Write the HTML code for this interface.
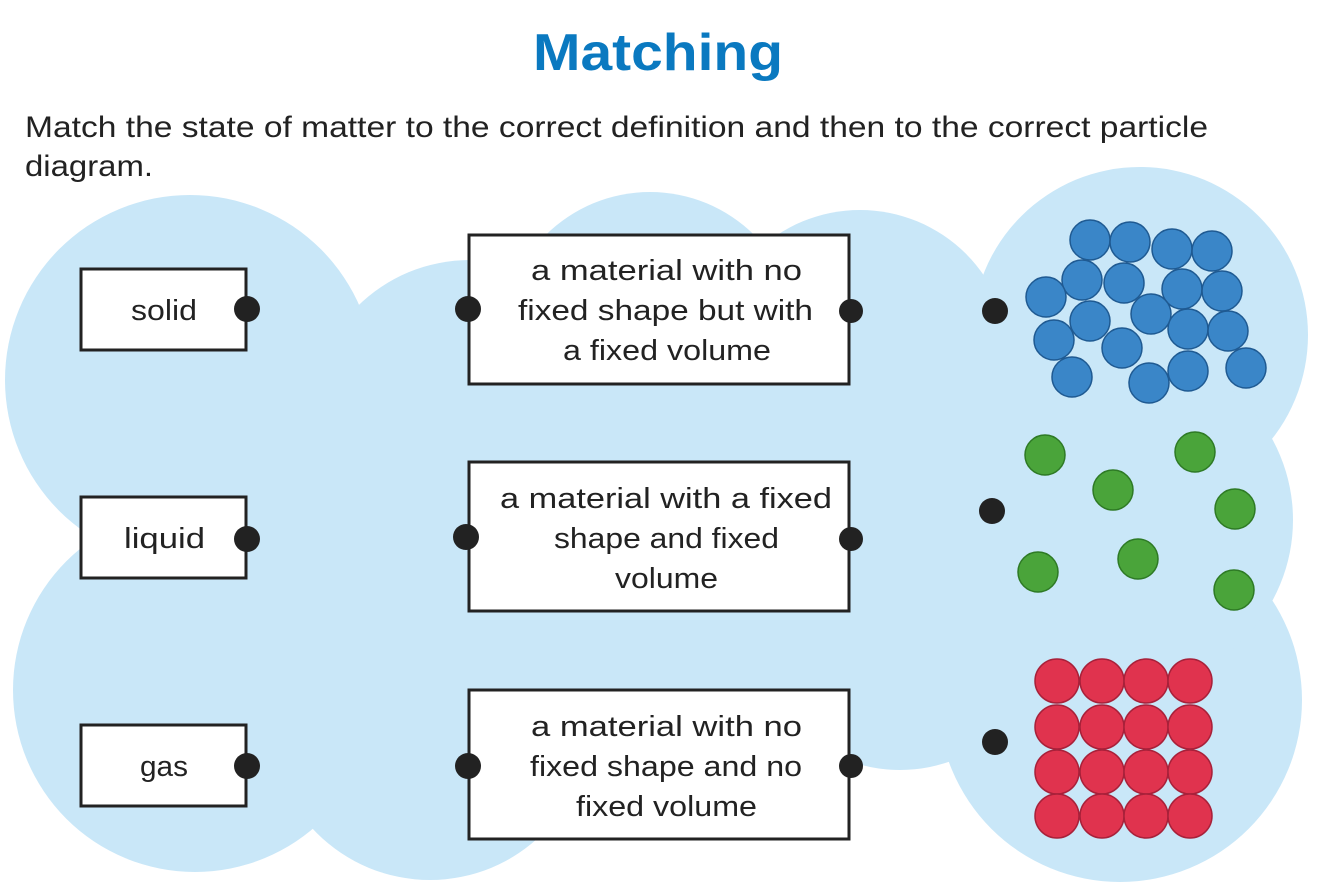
<!DOCTYPE html>
<html><head><meta charset="utf-8"><style>
body{margin:0;width:1328px;height:891px;background:#fff;overflow:hidden;font-family:"Liberation Sans",sans-serif}
</style></head><body>
<svg width="1328" height="891" viewBox="0 0 1328 891" xmlns="http://www.w3.org/2000/svg">
<g fill="#c9e7f8">
<circle cx="190" cy="380" r="185"/>
<circle cx="195" cy="690" r="182"/>
<circle cx="470" cy="420" r="160"/>
<circle cx="650" cy="340" r="148"/>
<circle cx="860" cy="360" r="150"/>
<circle cx="1140" cy="335" r="168"/>
<circle cx="1120" cy="700" r="182"/>
<circle cx="1125" cy="520" r="168"/>
<circle cx="430" cy="720" r="160"/>
<circle cx="900" cy="620" r="150"/>
<rect x="150" y="320" width="1000" height="440"/>
</g>
<text x="533" y="70" textLength="250" lengthAdjust="spacingAndGlyphs" font-size="52" font-weight="bold" fill="#0a79c0">Matching</text>
<text x="25" y="137" textLength="1183" lengthAdjust="spacingAndGlyphs" font-size="30" fill="#222">Match the state of matter to the correct definition and then to the correct particle</text>
<text x="25" y="176" textLength="128" lengthAdjust="spacingAndGlyphs" font-size="30" fill="#222">diagram.</text>
<g fill="#fff" stroke="#222" stroke-width="3">
<rect x="81" y="269" width="165" height="81"/>
<rect x="81" y="497" width="165" height="81"/>
<rect x="81" y="725" width="165" height="81"/>
<rect x="469" y="235" width="380" height="149"/>
<rect x="469" y="462" width="380" height="149"/>
<rect x="469" y="690" width="380" height="149"/>
</g>
<g font-size="29" fill="#222" lengthAdjust="spacingAndGlyphs">
<text x="131" y="320" textLength="66" lengthAdjust="spacingAndGlyphs">solid</text>
<text x="124" y="548" textLength="81" lengthAdjust="spacingAndGlyphs">liquid</text>
<text x="140" y="776" textLength="48" lengthAdjust="spacingAndGlyphs">gas</text>
<text x="531" y="280" textLength="271" lengthAdjust="spacingAndGlyphs">a material with no</text>
<text x="518" y="320" textLength="295" lengthAdjust="spacingAndGlyphs">fixed shape but with</text>
<text x="563" y="360" textLength="208" lengthAdjust="spacingAndGlyphs">a fixed volume</text>
<text x="500" y="508" textLength="332" lengthAdjust="spacingAndGlyphs">a material with a fixed</text>
<text x="554" y="548" textLength="225" lengthAdjust="spacingAndGlyphs">shape and fixed</text>
<text x="615" y="588" textLength="103" lengthAdjust="spacingAndGlyphs">volume</text>
<text x="531" y="736" textLength="271" lengthAdjust="spacingAndGlyphs">a material with no</text>
<text x="530" y="776" textLength="272" lengthAdjust="spacingAndGlyphs">fixed shape and no</text>
<text x="576" y="816" textLength="181" lengthAdjust="spacingAndGlyphs">fixed volume</text>
</g>
<g fill="#222">
<circle cx="247" cy="309" r="13"/><circle cx="247" cy="539" r="13"/><circle cx="247" cy="766" r="13"/>
<circle cx="468" cy="309" r="13"/><circle cx="466" cy="537" r="13"/><circle cx="468" cy="766" r="13"/>
<circle cx="851" cy="311" r="12"/><circle cx="851" cy="539" r="12"/><circle cx="851" cy="766" r="12"/>
<circle cx="995" cy="311" r="13"/><circle cx="992" cy="511" r="13"/><circle cx="995" cy="742" r="13"/>
</g>
<g fill="#3a86c8" stroke="#1f5a92" stroke-width="1.5">
<circle cx="1090" cy="240" r="20"/><circle cx="1130" cy="242" r="20"/><circle cx="1172" cy="249" r="20"/><circle cx="1212" cy="251" r="20"/>
<circle cx="1082" cy="280" r="20"/><circle cx="1124" cy="283" r="20"/><circle cx="1182" cy="289" r="20"/><circle cx="1222" cy="291" r="20"/>
<circle cx="1046" cy="297" r="20"/><circle cx="1090" cy="321" r="20"/><circle cx="1151" cy="314" r="20"/><circle cx="1188" cy="329" r="20"/>
<circle cx="1228" cy="331" r="20"/><circle cx="1054" cy="340" r="20"/><circle cx="1122" cy="348" r="20"/><circle cx="1072" cy="377" r="20"/>
<circle cx="1149" cy="383" r="20"/><circle cx="1188" cy="371" r="20"/><circle cx="1246" cy="368" r="20"/>
</g>
<g fill="#4aa43a" stroke="#2e7a25" stroke-width="1.5">
<circle cx="1045" cy="455" r="20"/><circle cx="1195" cy="452" r="20"/><circle cx="1113" cy="490" r="20"/><circle cx="1235" cy="509" r="20"/>
<circle cx="1038" cy="572" r="20"/><circle cx="1138" cy="559" r="20"/><circle cx="1234" cy="590" r="20"/>
</g>
<g fill="#e0334e" stroke="#a8213a" stroke-width="1.5">
<circle cx="1057" cy="681" r="22"/><circle cx="1102" cy="681" r="22"/><circle cx="1146" cy="681" r="22"/><circle cx="1190" cy="681" r="22"/>
<circle cx="1057" cy="727" r="22"/><circle cx="1102" cy="727" r="22"/><circle cx="1146" cy="727" r="22"/><circle cx="1190" cy="727" r="22"/>
<circle cx="1057" cy="772" r="22"/><circle cx="1102" cy="772" r="22"/><circle cx="1146" cy="772" r="22"/><circle cx="1190" cy="772" r="22"/>
<circle cx="1057" cy="816" r="22"/><circle cx="1102" cy="816" r="22"/><circle cx="1146" cy="816" r="22"/><circle cx="1190" cy="816" r="22"/>
</g>
</svg>
</body></html>
